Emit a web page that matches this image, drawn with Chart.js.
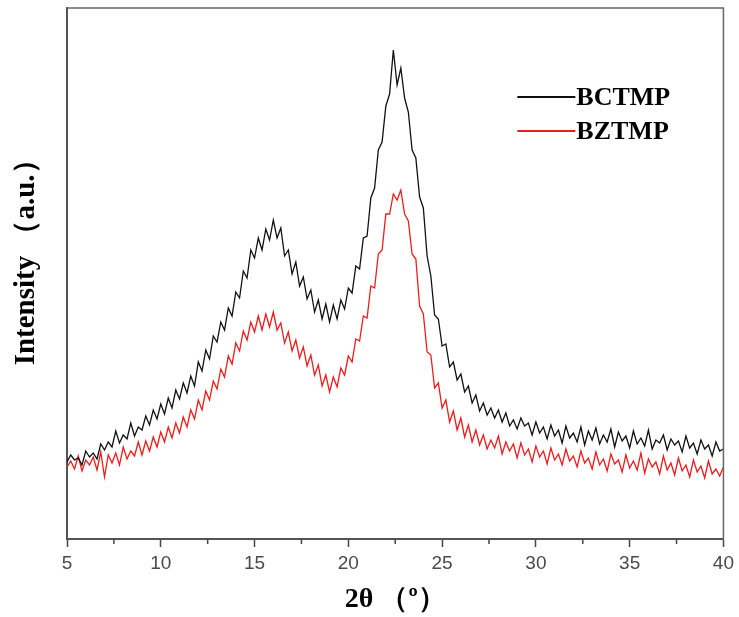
<!DOCTYPE html>
<html>
<head>
<meta charset="utf-8">
<script src="https://cdn.jsdelivr.net/npm/chart.js@4/dist/chart.umd.min.js"></script>
<style>
html,body{margin:0;padding:0;background:#fff;}
#wrap{position:relative;width:739px;height:617px;}
</style>
</head>
<body>
<div id="wrap"><canvas id="c" width="739" height="617"></canvas></div>
<script>
// 2θ sampling (degrees)
const angles = [
5.0,5.2,5.4,5.6,5.8,6.0,6.2,6.4,6.6,6.8,7.0,7.2,7.4,7.6,7.8,8.0,8.2,8.4,8.6,8.8,
9.0,9.2,9.4,9.6,9.8,10.0,10.2,10.4,10.6,10.8,11.0,11.2,11.4,11.6,11.8,12.0,12.2,12.4,12.6,12.8,
13.0,13.2,13.4,13.6,13.8,14.0,14.2,14.4,14.6,14.8,15.0,15.2,15.4,15.6,15.8,16.0,16.2,16.4,16.6,16.8,
17.0,17.2,17.4,17.6,17.8,18.0,18.2,18.4,18.6,18.8,19.0,19.2,19.4,19.6,19.8,20.0,20.2,20.4,20.6,20.8,
21.0,21.2,21.4,21.6,21.8,22.0,22.2,22.4,22.6,22.8,23.0,23.2,23.4,23.6,23.8,24.0,24.2,24.4,24.6,24.8,
25.0,25.2,25.4,25.6,25.8,26.0,26.2,26.4,26.6,26.8,27.0,27.2,27.4,27.6,27.8,28.0,28.2,28.4,28.6,28.8,
29.0,29.2,29.4,29.6,29.8,30.0,30.2,30.4,30.6,30.8,31.0,31.2,31.4,31.6,31.8,32.0,32.2,32.4,32.6,32.8,
33.0,33.2,33.4,33.6,33.8,34.0,34.2,34.4,34.6,34.8,35.0,35.2,35.4,35.6,35.8,36.0,36.2,36.4,36.6,36.8,
37.0,37.2,37.4,37.6,37.8,38.0,38.2,38.4,38.6,38.8,39.0,39.2,39.4,39.6,39.8,40.0
];

// Intensity (a.u.)
const bctmp = [
77,84,79,81,74,88,82,86,80,95,89,97,92,108,96,104,100,116,103,112,
109,123,114,129,120,135,125,141,131,149,140,156,146,163,153,177,168,189,180,203,
197,217,209,231,223,247,241,268,261,289,281,301,289,310,299,319,301,311,283,289,
265,277,253,262,240,249,227,239,220,235,217,234,220,239,230,251,246,273,270,301,
303,341,351,389,397,433,445,489,454,471,441,427,389,381,342,331,283,263,224,220,
193,195,172,177,159,165,147,153,136,144,128,136,124,131,121,129,117,126,113,119,
110,121,113,116,104,117,106,112,100,114,103,109,96,113,101,106,97,112,94,108,
99,111,95,104,97,110,92,107,98,103,91,108,95,101,93,109,90,99,96,104,
89,100,94,98,87,103,91,96,85,99,90,94,83,97,88,90
];

const bztmp = [
72,78,70,83,68,79,74,82,69,87,62,84,76,86,74,92,80,88,83,97,
84,98,88,102,92,107,97,112,101,116,106,122,112,129,120,139,129,148,139,158,
150,170,162,183,175,196,188,208,199,217,207,223,209,225,212,227,209,216,196,207,
188,199,181,192,173,184,164,174,153,164,147,162,152,171,164,183,177,200,198,223,
221,253,251,285,289,325,325,345,339,349,325,318,285,280,233,225,187,184,151,156,
131,139,117,128,109,121,102,114,97,109,94,104,90,99,91,103,85,97,88,95,
81,96,84,90,77,93,82,88,75,91,79,85,74,90,78,83,72,88,76,81,
70,87,74,80,68,85,75,79,67,84,71,78,69,86,66,80,72,77,65,83,
69,76,64,81,68,74,62,79,67,73,61,78,65,70,63,72
];

const seriesNames = ['BCTMP', 'BZTMP'];
const seriesColors = ['#111111', '#ee1c1c'];
const xTickValues = [5, 10, 15, 20, 25, 30, 35, 40];

const toPoints = (ys) => ys.map((v, i) => ({x: angles[i], y: v}));

const frameAndExtras = {
  id: 'frameAndExtras',
  afterDraw(chart) {
    const ctx = chart.ctx;
    const a = chart.chartArea;
    const xs = chart.scales.x;
    ctx.save();
    ctx.strokeStyle = '#666';
    ctx.lineWidth = 1.5;
    ctx.beginPath();
    ctx.moveTo(a.left, a.top);
    ctx.lineTo(a.right, a.top);
    ctx.lineTo(a.right, a.bottom);
    ctx.stroke();
    ctx.strokeStyle = '#444';
    ctx.lineWidth = 1.5;
    for (let k = 0; k < xTickValues.length - 1; k++) {
      const v = (xTickValues[k] + xTickValues[k + 1]) / 2;
      const px = xs.getPixelForValue(v);
      ctx.beginPath();
      ctx.moveTo(px, a.bottom);
      ctx.lineTo(px, a.bottom + 5);
      ctx.stroke();
    }
    const lx0 = a.left + (a.right - a.left) * 0.686;
    const lx1 = lx0 + 58;
    const ly0 = a.top + 89;
    const gap = 34;
    ctx.font = 'bold 26px "Liberation Serif", "Times New Roman", serif';
    ctx.textBaseline = 'middle';
    ctx.textAlign = 'left';
    chart.data.datasets.forEach((ds, i) => {
      const y = ly0 + i * gap;
      ctx.strokeStyle = ds.borderColor;
      ctx.lineWidth = 2;
      ctx.beginPath();
      ctx.moveTo(lx0, y);
      ctx.lineTo(lx1, y);
      ctx.stroke();
      ctx.fillStyle = '#000';
      ctx.fillText(ds.label, lx1 + 1, y + 1);
    });
    ctx.restore();
  }
};

new Chart(document.getElementById('c'), {
  type: 'line',
  data: {
    datasets: [
      {label: seriesNames[0], data: toPoints(bctmp), borderColor: seriesColors[0], borderWidth: 1.3, pointRadius: 0, tension: 0, fill: false},
      {label: seriesNames[1], data: toPoints(bztmp), borderColor: seriesColors[1], borderWidth: 1.3, pointRadius: 0, tension: 0, fill: false}
    ]
  },
  options: {
    responsive: false,
    animation: false,
    events: [],
    layout: {padding: {top: 8, right: 12, left: 0, bottom: 0}},
    plugins: {legend: {display: false}, tooltip: {enabled: false}},
    scales: {
      x: {
        type: 'linear',
        min: 5, max: 40,
        afterFit: (s) => { s.height = 78; },
        ticks: {
          stepSize: 5,
          autoSkip: false,
          maxRotation: 0,
          padding: 5,
          color: '#4a4a4a',
          font: {family: '"Liberation Sans", Arial, sans-serif', size: 19},
          callback: (v) => xTickValues.includes(v) ? String(v) : ''
        },
        grid: {display: true, drawOnChartArea: false, drawTicks: true, tickLength: 8, tickColor: '#444', tickWidth: 1.5},
        border: {display: true, color: '#555', width: 2},
        title: {
          display: true,
          text: '2θ （º）',
          color: '#000',
          font: {family: '"Liberation Serif", "Times New Roman", serif', size: 28, weight: 'bold'},
          padding: {top: 0, bottom: 0}
        }
      },
      y: {
        type: 'linear',
        min: 0, max: 531,
        afterFit: (s) => { s.width = 67; },
        ticks: {display: false},
        grid: {display: true, drawOnChartArea: false, drawTicks: false},
        border: {display: true, color: '#555', width: 2},
        title: {
          display: true,
          text: '\u3000 Intensity （a.u.）',
          color: '#000',
          font: {family: '"Liberation Serif", "Times New Roman", serif', size: 29, weight: 'bold'},
          padding: {top: 9, bottom: 0}
        }
      }
    }
  },
  plugins: [frameAndExtras]
});
</script>
</body>
</html>
